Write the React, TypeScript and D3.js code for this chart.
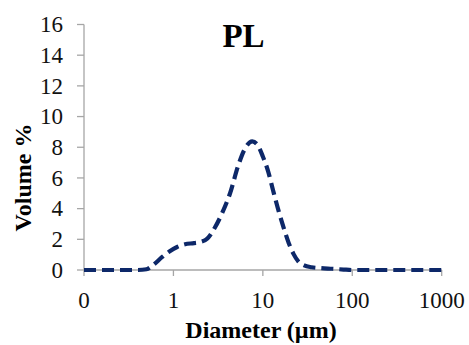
import React from "react";
import * as d3 from "d3";

const diameters = [0.1, 0.2, 0.3, 0.4, 0.5, 0.6, 0.75, 0.9, 1.1, 1.35, 1.7, 2.0, 2.4, 2.9, 3.5, 4.3, 5.3, 6.3, 7.6, 8.6, 10, 11.5, 13, 15, 17, 19.5, 22, 25, 29, 35, 45, 60, 80, 100, 200, 500, 1000];
const volumes = [0, 0, 0, 0, 0.05, 0.35, 0.85, 1.2, 1.5, 1.68, 1.75, 1.82, 2.05, 2.75, 3.7, 5.0, 6.8, 7.9, 8.38, 8.2, 7.4, 6.4, 5.2, 3.85, 2.8, 1.75, 1.05, 0.55, 0.3, 0.18, 0.12, 0.08, 0.03, 0, 0, 0, 0];
const yTicks = [0, 2, 4, 6, 8, 10, 12, 14, 16];
const xTicks = [0.1, 1, 10, 100, 1000];
const xTickLabels = ["0", "1", "10", "100", "1000"];
const title = "PL";
const xTitle = "Diameter (µm)";
const yTitle = "Volume %";

export default function App() {
  const W = 469, H = 345;
  const left = 84, right = 441.7, top = 24.5, bottom = 270;
  const x = d3.scaleLog().domain([0.1, 1000]).range([left, right]);
  const y = d3.scaleLinear().domain([0, 16]).range([bottom, top]);
  const pts = diameters.map((d, i) => [d, volumes[i]] as [number, number]);
  const line = d3.line<[number, number]>()
    .x((p) => x(p[0]))
    .y((p) => y(p[1]))
    .curve(d3.curveMonotoneX);
  const axisColor = "#a6a6a6";
  const font = "'Liberation Serif', 'Times New Roman', serif";
  return (
    <svg width={W} height={H} style={{ position: "absolute", left: 0, top: 0, background: "#fff" }}>
      <line x1={left} x2={left} y1={top} y2={bottom} stroke={axisColor} strokeWidth={1.3} />
      <line x1={left} x2={right} y1={bottom} y2={bottom} stroke={axisColor} strokeWidth={1.3} />
      {yTicks.map((t) => (
        <g key={"y" + t}>
          <line x1={left - 7} x2={left} y1={y(t)} y2={y(t)} stroke={axisColor} strokeWidth={1.3} />
          <text x={63} y={y(t)} dy="0.34em" textAnchor="end" fontFamily={font} fontSize={23} fill="#111">{t}</text>
        </g>
      ))}
      {xTicks.map((t, i) => (
        <g key={"x" + t}>
          <line x1={x(t)} x2={x(t)} y1={bottom} y2={bottom + 6} stroke={axisColor} strokeWidth={1.3} />
          <text x={x(t)} y={308} textAnchor="middle" fontFamily={font} fontSize={23} fill="#111">{xTickLabels[i]}</text>
        </g>
      ))}
      <path d={line(pts) || ""} fill="none" stroke="#0d2869" strokeWidth={4.2} strokeDasharray="12,6" />
      <text x={243.5} y={46.5} textAnchor="middle" fontFamily={font} fontWeight="bold" fontSize={33} fill="#000">{title}</text>
      <text x={261} y={338} textAnchor="middle" fontFamily={font} fontWeight="bold" fontSize={24} fill="#000">{xTitle}</text>
      <text transform="translate(31,177.5) rotate(-90)" textAnchor="middle" fontFamily={font} fontWeight="bold" fontSize={24} fill="#000">{yTitle}</text>
    </svg>
  );
}
